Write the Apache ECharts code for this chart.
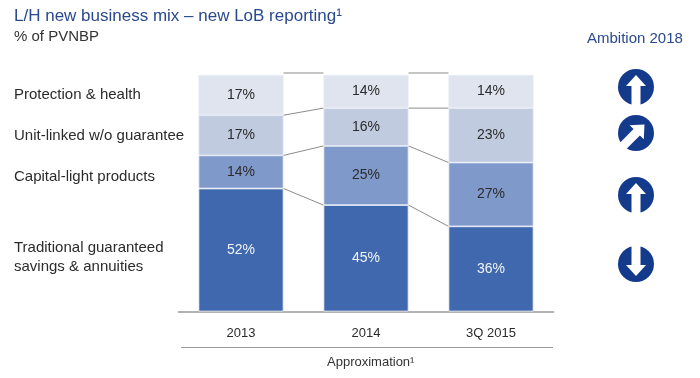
<!DOCTYPE html>
<html>
<head>
<meta charset="utf-8">
<style>html,body{margin:0;padding:0;background:#fff}#chart{width:700px;height:378px}</style>
<script src="https://cdn.jsdelivr.net/npm/echarts@6/dist/echarts.min.js"></script>
</head>
<body>
<div id="chart"></div>
<script>
// data
var years = ['2013', '2014', '3Q 2015'];
var traditional = [52, 45, 36];
var capitalLight = [14, 25, 27];
var unitLinked = [17, 16, 23];
var protection = [17, 14, 14];
var lobNames = ['Protection & health', 'Unit-linked w/o guarantee', 'Capital-light products', 'Traditional guaranteed\nsavings & annuities'];
var ambition = ['up', 'upright', 'up', 'down'];

var fontName = '"Liberation Sans", Arial, sans-serif';
var navy = '#143a8c';
var barWidth = 85;
var labelY = [95, 136, 177, 257];
var iconY = [87, 133, 195, 264];
var iconAngle = { up: 0, upright: -Math.PI / 4, down: Math.PI };

function makeBar(name, values, color, labelColor) {
	return {
		type: 'bar',
		name: name,
		stack: 'mix',
		barWidth: barWidth,
		data: values,
		itemStyle: { color: color, borderColor: '#e4eaf4', borderWidth: 0.8 },
		label: {
			show: true,
			position: 'inside',
			formatter: '{c}%',
			fontFamily: fontName,
			fontSize: 14,
			color: labelColor
		}
	};
}

// lines joining the segment edges of neighbouring bars
function renderConnectors(params, api) {
	var i = api.value(0);
	var stacks = [traditional, capitalLight, unitLinked, protection];
	var sumA = 0, sumB = 0, children = [];
	for (var s = 0; s < stacks.length; s++) {
		sumA += stacks[s][i];
		sumB += stacks[s][i + 1];
		var a = api.coord([i, sumA]);
		var b = api.coord([i + 1, sumB]);
		var lift = s == stacks.length - 1 ? -2 : 0;
		children.push({
			type: 'line',
			shape: { x1: a[0] + barWidth / 2, y1: a[1] + lift, x2: b[0] - barWidth / 2, y2: b[1] + lift },
			style: { stroke: '#8c8c8c', lineWidth: 1 }
		});
	}
	return { type: 'group', children: children };
}

function makeIcon(dir, y) {
	return {
		type: 'group',
		x: 636,
		y: y,
		children: [
			{ type: 'circle', shape: { cx: 0, cy: 0, r: 18 }, style: { fill: navy } },
			{
				type: 'polygon',
				rotation: iconAngle[dir],
				shape: { points: [[0, -12], [10, -1], [4.5, -1], [4.5, 18.5], [-4.5, 18.5], [-4.5, -1], [-10, -1]] },
				style: { fill: '#fff' }
			}
		]
	};
}

var graphics = [
	{ type: 'text', x: 14, y: 8, style: { text: 'L/H new business mix \u2013 new LoB reporting\u00b9', font: '17px ' + fontName, fill: '#2a4a8e' } },
	{ type: 'text', x: 14, y: 29, style: { text: '% of PVNBP', font: '15px ' + fontName, fill: '#333' } },
	{ type: 'text', x: 587, y: 31, style: { text: 'Ambition 2018', font: '15px ' + fontName, fill: '#2a4a8e' } },
	{ type: 'text', x: 327, y: 356, style: { text: 'Approximation\u00b9', font: '13px ' + fontName, fill: '#333' } },
	{ type: 'line', shape: { x1: 181, y1: 347.5, x2: 553, y2: 347.5 }, style: { stroke: '#999', lineWidth: 1 } }
];
lobNames.forEach(function (name, i) {
	graphics.push({
		type: 'text',
		x: 14,
		y: labelY[i],
		style: { text: name, font: '15px ' + fontName, fill: '#2b2b2b', lineHeight: 19, verticalAlign: 'middle' }
	});
});
ambition.forEach(function (dir, i) {
	graphics.push(makeIcon(dir, iconY[i]));
});

var chart = echarts.init(document.getElementById('chart'), null, { renderer: 'canvas' });
chart.setOption({
	animation: false,
	backgroundColor: '#fff',
	grid: { left: 178.5, width: 375, top: 75, height: 236.5 },
	xAxis: {
		type: 'category',
		data: years,
		axisTick: { show: false },
		axisLine: { lineStyle: { color: '#999', width: 1.5 } },
		axisLabel: { fontFamily: fontName, fontSize: 13, color: '#2b2b2b', margin: 15 }
	},
	yAxis: { type: 'value', min: 0, max: 100, show: false },
	series: [
		makeBar('Traditional guaranteed savings & annuities', traditional, '#3f68ae', '#f2f5fa'),
		makeBar('Capital-light products', capitalLight, '#7f99cb', '#2b2b2b'),
		makeBar('Unit-linked w/o guarantee', unitLinked, '#c0cbe0', '#2b2b2b'),
		makeBar('Protection & health', protection, '#dfe4ef', '#2b2b2b'),
		{
			type: 'custom',
			silent: true,
			clip: false,
			renderItem: renderConnectors,
			encode: { x: 0 },
			data: [[0], [1]]
		}
	],
	graphic: graphics
});
</script>
</body>
</html>
